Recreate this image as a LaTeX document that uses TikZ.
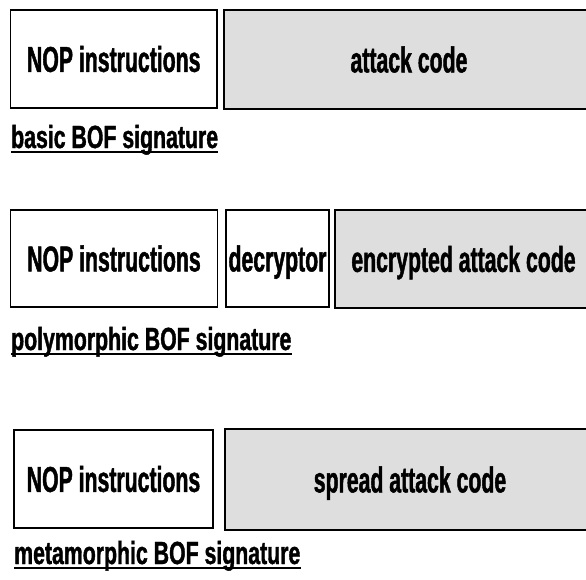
\documentclass[tikz,border=0pt]{standalone}
\usepackage{fontspec}
% Condensed heavy sans for the box texts and the captions
\newfontfamily\boxfont{Liberation Sans}[FakeStretch=0.59, FakeBold=1.2]
\newfontfamily\capfont{Liberation Sans}[FakeStretch=0.665, FakeBold=1.2]
\begin{document}
\begin{tikzpicture}[x=1pt,y=-1pt,
  plainbox/.style={draw=black, line width=1.3pt, inner sep=0pt,
    font=\boxfont\bfseries\fontsize{36}{42}\selectfont,
    text height=25.8pt, text depth=0pt},
  codebox/.style={plainbox, fill=black!13, line width=1.7pt},
  caption/.style={inner sep=0pt, anchor=base west,
    font=\capfont\bfseries\fontsize{32}{38}\selectfont},
  uline/.style={line width=2pt}]
\useasboundingbox (0,0) rectangle (586,579);
\clip (0,0) rectangle (586,579);

% basic signature
\node[plainbox, minimum width=206.5pt, minimum height=98pt] (nop1) at (113.75,59) {NOP instructions};
\node[codebox, minimum width=370pt, minimum height=99pt] (atk1) at (409,59.5) {attack code};
\node[caption] (lbl1) at (11,148) {basic BOF signature};
\draw[uline] ([yshift=-4pt]lbl1.base west) -- ([yshift=-4pt]lbl1.base east);

% polymorphic signature
\node[plainbox, minimum width=207pt, minimum height=97pt] (nop2) at (114,258.5) {NOP instructions};
\node[plainbox, minimum width=103pt, minimum height=97pt] (dec2) at (277.5,258.5) {decryptor};
\node[codebox, minimum width=257pt, minimum height=98pt] (enc2) at (463.5,259) {encrypted attack code};
\node[caption] (lbl2) at (11,350) {polymorphic BOF signature};
\draw[uline] ([yshift=-4pt]lbl2.base west) -- ([yshift=-4pt]lbl2.base east);

% metamorphic signature
\node[plainbox, minimum width=199pt, minimum height=98pt] (nop3) at (113.5,479) {NOP instructions};
\node[codebox, minimum width=370pt, minimum height=101pt] (spr3) at (410,479.5) {spread attack code};
\node[caption] (lbl3) at (14,564) {metamorphic BOF signature};
\draw[uline] ([yshift=-4pt]lbl3.base west) -- ([yshift=-4pt]lbl3.base east);
\end{tikzpicture}
\end{document}
